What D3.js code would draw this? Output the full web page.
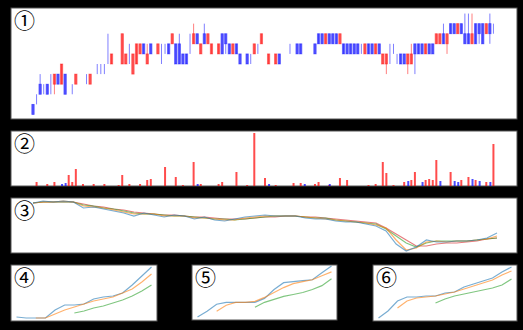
<!DOCTYPE html>
<html>
<head>
<meta charset="utf-8">
<script src="https://cdn.jsdelivr.net/npm/d3@7"></script>
<style>
  html, body { margin: 0; padding: 0; background: #000; }
  svg { display: block; }
</style>
</head>
<body>
<div id="chart"></div>
<script>
// ① price ticks (open / high / low / close)
const open  = [1,1,3,3,3,3,3,4,3,4,3,3,3,3,3,3,3,4,4,5,5,5,5,4,3,5,5,6,4,5,6,7,5,7,6,6,6,6,7,7,7,7,6,6,7,7,8,6,8,7,6,6,6,8,8,7,6,7,6,5,6,5,6,6,7,6,5,5,5,6,6,6,6,6,7,7,7,7,7,7,8,8,7,8,8,8,7,7,7,7,7,7,6,6,7,7,6,7,5,5,6,6,5,6,6,5,5,7,7,7,6,7,7,7,7,8,7,9,9,8,9,8,8,7,9,9,9,8,9,8,8];
const high  = [1,2,4,3,3,4,4,4,5,4,3,3,4,3,3,4,4,4,5,5,5,8,6,4,3,8,6,7,6,7,7,7,7,7,6,7,7,7,7,8,7,8,6,6,8,9,8,7,9,8,7,6,7,8,8,7,7,7,6,5,6,6,7,7,8,6,6,5,6,6,6,6,7,6,7,7,7,7,7,7,8,8,8,8,8,8,8,7,7,7,7,7,7,7,7,7,7,7,6,6,7,7,6,6,6,6,7,7,7,7,7,7,7,8,8,9,8,9,9,9,9,10,10,10,9,9,9,9,10,9,8];
const low   = [0,1,2,2,2,2,2,3,3,2,3,2,3,3,3,3,3,4,4,4,4,5,5,4,3,5,5,5,4,5,6,6,5,6,6,6,5,6,6,7,5,5,5,5,6,7,7,6,7,7,6,6,6,6,6,6,6,6,5,5,5,5,6,6,7,6,5,5,5,5,6,6,6,6,6,6,7,7,7,6,7,7,7,7,7,7,7,6,6,6,6,6,6,6,6,6,6,6,5,4,5,6,5,5,5,4,5,4,6,6,6,6,6,7,7,7,6,8,8,8,8,7,7,7,7,7,7,8,7,8,8];
const close = [0,1,2,3,2,3,4,3,5,2,3,3,4,3,3,3,4,4,4,5,5,5,6,4,3,8,6,6,6,7,7,6,6,6,6,7,6,6,6,8,5,5,5,5,7,8,7,7,7,8,7,6,7,6,7,6,7,6,5,5,5,5,7,6,8,6,6,5,6,5,6,6,6,6,6,6,7,7,7,6,7,7,8,7,7,7,8,6,6,6,6,6,6,7,6,6,7,6,6,6,6,6,5,5,5,6,6,6,6,6,7,6,6,8,8,7,8,8,8,9,8,7,7,8,7,8,7,9,8,8,8];

// ② volume (candle index, size)
const redVolIdx  = [1,4,6,10,11,12,14,17,20,24,25,27,30,32,33,37,40,42,45,47,52,53,57,60,62,65,68,73,75,79,80,83,86,88,94,96,98,99,101,104,106,107,110,111,112,113,117,120,122,124,127,129];
const redVolVal  = [4,2,4,11,4,17,2,2,2,1,11,2,2,6,7,19,9,1,24,2,2,4,14,1,53,8,1,3,3,2,4,1,8,6,1,2,24,13,1,4,6,14,6,7,6,26,14,6,9,6,4,42];
const blueVolIdx = [8,9,46,66,76,83,105,109,114,118,119,123,125,128];
const blueVolVal = [2,3,2,2,2,2,5,4,5,5,4,7,5,4];

// ③ price and moving averages
const line3Blue   = [57,59,58,59,58,52,53,51,49,47,44,47,45,43,45,44,41,43,40,39,41,43,44,45,44,44,44,42,41,41,39,38,38,36,34,29,16,9,13,20,18,18,19,19,20,22,27];
const line3Orange = [57,58,58,59,58,54,53,52,50,48,46,46,46,44,44,44,42,42,41,40,40,42,43,44,44,44,44,43,42,41,40,39,38,37,35,32,20,10,12,18,19,18,19,19,20,21,24];
const line3Green  = [57,58,58,58,58,55,54,52,51,49,47,46,46,45,44,44,43,42,41,41,40,41,42,43,44,44,44,43,42,42,40,39,38,37,36,31,24,17,13,17,19,19,19,19,20,21,22];
const line3Red    = [57,58,58,58,58,56,54,53,51,50,48,47,46,45,45,44,43,43,42,41,41,41,42,43,43,44,44,43,43,42,41,40,39,38,37,32,26,20,14,14,16,17,17,18,19,21,22];

// ④ ⑤ ⑥ small panels (orange starts at point 2, green at point 6)
const p4Blue   = [13,12,12,12,20,25,25,26,31,33,34,37,45,54,63];
const p4Orange = [12,12,16,20,23,26,29,31,33,37,41,48,56];
const p4Green  = [17,19,22,24,27,30,34,39,45];
const p5Blue   = [12,18,25,27,27,27,27,31,40,47,48,49,50,57,64];
const p5Orange = [18,24,27,27,28,32,37,42,46,48,50,54,58];
const p5Green  = [22,27,30,33,35,37,40,44,51];
const p6Blue   = [12,19,29,33,33,34,34,37,38,43,46,49,52,58,63];
const p6Orange = [22,29,32,33,34,36,38,41,44,47,50,55,59];
const p6Green  = [27,31,34,36,38,40,42,45,51];

const labels = ['\u2460', '\u2461', '\u2462', '\u2463', '\u2464', '\u2465'];

const W = 523, H = 330;
const svg = d3.select('#chart').append('svg')
  .attr('width', W).attr('height', H);

svg.append('rect').attr('width', W).attr('height', H).attr('fill', '#000');

const panels = [
  { x0: 11,  x1: 517, y0: 8,   y1: 119 },
  { x0: 11,  x1: 517, y0: 131, y1: 186 },
  { x0: 11,  x1: 517, y0: 198, y1: 253 },
  { x0: 11,  x1: 157, y0: 265, y1: 321 },
  { x0: 192, x1: 337, y0: 265, y1: 320 },
  { x0: 373, x1: 517, y0: 265, y1: 321 }
];

panels.forEach((p, k) => {
  svg.append('rect')
    .attr('x', p.x0).attr('y', p.y0)
    .attr('width', p.x1 - p.x0).attr('height', p.y1 - p.y0)
    .attr('fill', '#fff')
    .attr('stroke', '#555')
    .attr('stroke-width', 1);
});

const tab = { blue: '#1f77b4', orange: '#ff7f0e', green: '#2ca02c', red: '#d62728' };

// ① candles
const p1 = panels[0];
const xC = d3.scaleLinear().domain([0, open.length - 1]).range([p1.x0 + 22, p1.x1 - 20]);
const yC = d3.scaleLinear().domain([-0.45, 10.55]).range([p1.y1, p1.y0]);
const candles = open.map((o, i) => ({ i, o, h: high[i], l: low[i], c: close[i] }));
const gC = svg.append('g');
gC.selectAll('line').data(candles).enter().append('line')
  .attr('x1', d => xC(d.i)).attr('x2', d => xC(d.i))
  .attr('y1', d => yC(d.h)).attr('y2', d => yC(d.l))
  .attr('stroke', d => d.c > d.o ? 'red' : 'blue')
  .attr('stroke-opacity', 0.5)
  .attr('stroke-width', 1);
gC.selectAll('rect').data(candles).enter().append('rect')
  .attr('x', d => xC(d.i) - 1.2)
  .attr('width', 2.4)
  .attr('y', d => yC(Math.max(d.o, d.c)))
  .attr('height', d => Math.abs(yC(d.o) - yC(d.c)))
  .attr('fill', d => d.c > d.o ? 'red' : 'blue')
  .attr('fill-opacity', 0.55)
  .attr('stroke', d => d.c > d.o ? 'red' : 'blue')
  .attr('stroke-opacity', 0.5)
  .attr('stroke-width', 0.8);

// ② volume
const p2 = panels[1];
const yV = d3.scaleLinear().domain([0, 55]).range([p2.y1, p2.y0]);
const gV = svg.append('g');
const redVol = redVolIdx.map((i, k) => ({ i, v: redVolVal[k] }));
const blueVol = blueVolIdx.map((i, k) => ({ i, v: blueVolVal[k] }));
gV.selectAll('rect.r').data(redVol).enter().append('rect')
  .attr('class', 'r')
  .attr('x', d => xC(d.i) - 1).attr('width', 2)
  .attr('y', d => yV(d.v)).attr('height', d => yV(0) - yV(d.v))
  .attr('fill', 'red').attr('fill-opacity', 0.7);
gV.selectAll('rect.b').data(blueVol).enter().append('rect')
  .attr('class', 'b')
  .attr('x', d => xC(d.i) - 0.5).attr('width', 2)
  .attr('y', d => yV(d.v)).attr('height', d => yV(0) - yV(d.v))
  .attr('fill', 'blue').attr('fill-opacity', 0.7);

// ③ lines
const p3 = panels[2];
const x3 = d3.scaleLinear().domain([0, line3Blue.length - 1]).range([p3.x0 + 22, p3.x1 - 20]);
const y3 = d3.scaleLinear().domain([7, 62]).range([p3.y1, p3.y0]);
const line3 = d3.line().x((d, i) => x3(i)).y(d => y3(d));
[[line3Red, tab.red], [line3Green, tab.green], [line3Orange, tab.orange], [line3Blue, tab.blue]].forEach(([s, col]) => {
  svg.append('path')
    .attr('d', line3(s))
    .attr('fill', 'none')
    .attr('stroke', col)
    .attr('stroke-opacity', 0.6)
    .attr('stroke-width', 1.2);
});

// ④ ⑤ ⑥
const small = [
  [p4Blue, p4Orange, p4Green],
  [p5Blue, p5Orange, p5Green],
  [p6Blue, p6Orange, p6Green]
];
small.forEach((set, k) => {
  const p = panels[3 + k];
  const xs = d3.scaleLinear().domain([0, set[0].length - 1]).range([p.x0 + 5.5, p.x1 - 5.5]);
  const ys = d3.scaleLinear().domain([9, 65]).range([p.y1, p.y0]);
  const offs = [0, 2, 6];
  const cols = [tab.blue, tab.orange, tab.green];
  set.forEach((s, j) => {
    const ln = d3.line().x((d, i) => xs(i + offs[j])).y(d => ys(d));
    svg.append('path')
      .attr('d', ln(s))
      .attr('fill', 'none')
      .attr('stroke', cols[j])
      .attr('stroke-opacity', 0.6)
      .attr('stroke-width', 1.2);
  });
});

// panel numbers
panels.forEach((p, k) => {
  svg.append('text')
    .attr('x', p.x0 + 3)
    .attr('y', p.y0 + 20)
    .attr('font-family', '"Noto Sans CJK JP"')
    .attr('font-size', 21)
    .attr('fill', '#000')
    .text(labels[k]);
});
</script>
</body>
</html>
